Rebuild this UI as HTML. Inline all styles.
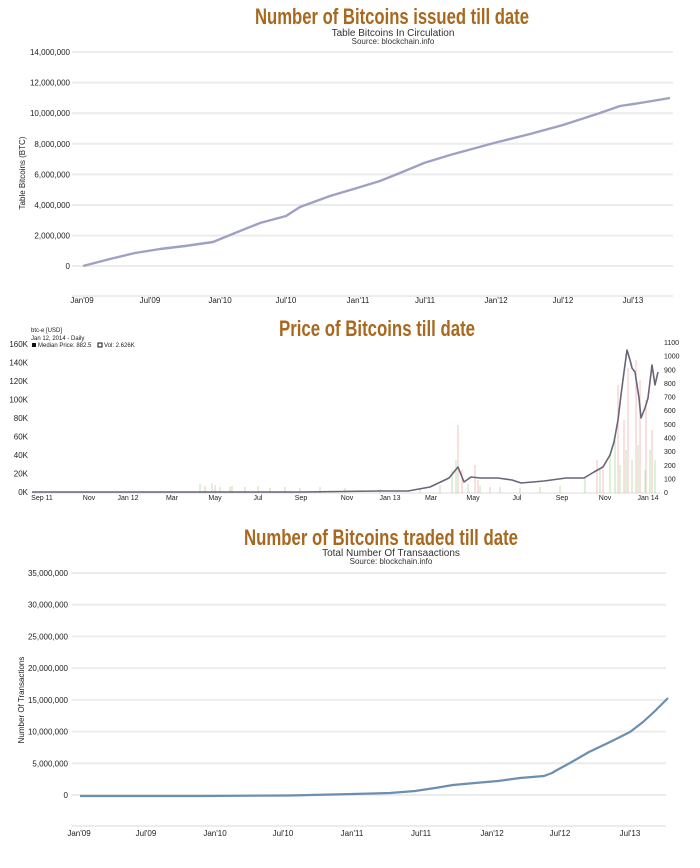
<!DOCTYPE html>
<html><head><meta charset="utf-8"><style>
html,body{margin:0;padding:0;background:#fff;}
svg{display:block;}
text{font-family:"Liberation Sans",sans-serif;}
.t{font-family:"Liberation Sans Narrow","Liberation Sans",sans-serif;font-weight:bold;fill:#a8681e;font-size:22px;}
.s{font-size:10px;fill:#333;}
.src{font-size:8px;fill:#333;}
.yl{font-size:8px;fill:#222;text-anchor:end;}
.yr{font-size:7px;fill:#222;text-anchor:start;}
.xl{font-size:8px;fill:#222;text-anchor:middle;}
.xs{font-size:7px;fill:#222;text-anchor:middle;}
.g{stroke:#ececec;stroke-width:2;}
</style></head><body>
<svg width="700" height="868" viewBox="0 0 700 868" xmlns="http://www.w3.org/2000/svg">
<!-- Chart 1 -->
<text class="t" x="392" y="24" text-anchor="middle" textLength="274" lengthAdjust="spacingAndGlyphs">Number of Bitcoins issued till date</text>
<text class="s" x="393" y="36" text-anchor="middle">Table Bitcoins In Circulation</text>
<text class="src" x="393" y="44" text-anchor="middle">Source: blockchain.info</text>
<g class="g">
<line x1="72" y1="52" x2="673" y2="52"/><line x1="72" y1="82.6" x2="673" y2="82.6"/><line x1="72" y1="113.2" x2="673" y2="113.2"/><line x1="72" y1="143.8" x2="673" y2="143.8"/><line x1="72" y1="174.4" x2="673" y2="174.4"/><line x1="72" y1="205" x2="673" y2="205"/><line x1="72" y1="235.6" x2="673" y2="235.6"/><line x1="72" y1="266" x2="673" y2="266"/><line x1="72" y1="296" x2="673" y2="296"/>
</g>
<g class="yl"><text x="70" y="55">14,000,000</text><text x="70" y="85.6">12,000,000</text><text x="70" y="116.2">10,000,000</text><text x="70" y="146.8">8,000,000</text><text x="70" y="177.4">6,000,000</text><text x="70" y="208">4,000,000</text><text x="70" y="238.6">2,000,000</text><text x="70" y="269">0</text></g>
<text x="25" y="173" font-size="8" fill="#222" text-anchor="middle" transform="rotate(-90 25 173)">Table Bitcoins (BTC)</text>
<g class="xl"><text x="82" y="303">Jan'09</text><text x="150" y="303">Jul'09</text><text x="220" y="303">Jan'10</text><text x="286" y="303">Jul'10</text><text x="358" y="303">Jan'11</text><text x="425" y="303">Jul'11</text><text x="496" y="303">Jan'12</text><text x="563" y="303">Jul'12</text><text x="633" y="303">Jul'13</text></g>
<polyline fill="none" stroke="#9fa1c4" stroke-width="2.4" stroke-linejoin="round" points="83,266 110,259 135,253 160,249 185,246 213,242 235,233 260,223 286,216 300,207 330,196 357,188 380,181 400,173 424,163 450,155 494,143 530,134 563,125 600,113 620,106 640,103 670,98"/>

<!-- Chart 2 -->
<text class="t" x="377" y="336" text-anchor="middle" textLength="196" lengthAdjust="spacingAndGlyphs">Price of Bitcoins till date</text>
<text x="31" y="332" font-size="6" fill="#222">btc-e [USD]</text>
<text x="31" y="340" font-size="6" fill="#222">Jan 12, 2014 - Daily</text>
<rect x="32" y="343" width="4" height="4" fill="#111"/>
<text x="38" y="347" font-size="6" fill="#222">Median Price: 882.5</text>
<rect x="98" y="343" width="4" height="4" fill="#fff" stroke="#111" stroke-width="1"/>
<text x="104" y="347" font-size="6" fill="#222">Vol: 2.626K</text>
<g class="yl" font-size="7"><text x="28" y="347">160K</text><text x="28" y="365.5">140K</text><text x="28" y="384">120K</text><text x="28" y="402.5">100K</text><text x="28" y="421">80K</text><text x="28" y="439.5">60K</text><text x="28" y="458">40K</text><text x="28" y="476.5">20K</text><text x="28" y="495">0K</text></g>
<g class="yr"><text x="664" y="345">1100</text><text x="664" y="358.6">1000</text><text x="664" y="372.3">900</text><text x="664" y="386">800</text><text x="664" y="399.6">700</text><text x="664" y="413.2">600</text><text x="664" y="427">500</text><text x="664" y="440.5">400</text><text x="664" y="454">300</text><text x="664" y="467.8">200</text><text x="664" y="481.5">100</text><text x="664" y="495">0</text></g>
<line x1="32" y1="493" x2="660" y2="493" stroke="#ddd" stroke-width="1"/>
<g stroke-width="1.2" opacity="0.55">
<path stroke="#9fcf8a" d="M200 493V484M205 493V486M212 493V483M220 493V487M232 493V486M245 493V487M258 493V486M270 493V488M285 493V487M300 493V488M320 493V487M345 493V488M380 493V489M420 493V488M440 493V485M452 493V470M456 493V460M468 493V484M480 493V486M500 493V487M520 493V488M540 493V487M560 493V486M585 493V478M600 493V470M610 493V455M615 493V440M620 493V465M626 493V450M632 493V460M638 493V445M645 493V470M650 493V450M655 493V460"/>
<path stroke="#f2a0a0" d="M205 493V487M215 493V485M230 493V487M458 493V425M462 493V470M475 493V465M478 493V480M490 493V487M597 493V460M603 493V470M618 493V385M624 493V420M628 493V368M636 493V360M640 493V380M646 493V400M652 493V430"/>
</g>
<polyline fill="none" stroke="#6a6478" stroke-width="1.6" stroke-linejoin="round" points="32,492 100,492 200,492 300,492 380,491 408,491 430,487 449,478 458,467 464,482 471,477 480,478 498,478 512,480 521,483 544,481 566,478 584,478 594,472 603,467 610,455 614,442 618,420 621,395 624,372 627,350 630,360 632,368 635,372 639,398 641,418 645,408 648,398 652,365 655,385 658,372"/>
<g class="xs"><text x="42" y="500">Sep 11</text><text x="89" y="500">Nov</text><text x="128" y="500">Jan 12</text><text x="172" y="500">Mar</text><text x="215" y="500">May</text><text x="258" y="500">Jul</text><text x="301" y="500">Sep</text><text x="347" y="500">Nov</text><text x="390" y="500">Jan 13</text><text x="431" y="500">Mar</text><text x="473" y="500">May</text><text x="517" y="500">Jul</text><text x="562" y="500">Sep</text><text x="605" y="500">Nov</text><text x="648" y="500">Jan 14</text></g>

<!-- Chart 3 -->
<text class="t" x="381" y="545" text-anchor="middle" textLength="274" lengthAdjust="spacingAndGlyphs">Number of Bitcoins traded till date</text>
<text class="s" x="391" y="556" text-anchor="middle">Total Number Of Transaactions</text>
<text class="src" x="391" y="564" text-anchor="middle">Source: blockchain.info</text>
<g class="g">
<line x1="72" y1="573" x2="666" y2="573"/><line x1="72" y1="604.7" x2="666" y2="604.7"/><line x1="72" y1="636.4" x2="666" y2="636.4"/><line x1="72" y1="668.1" x2="666" y2="668.1"/><line x1="72" y1="699.9" x2="666" y2="699.9"/><line x1="72" y1="731.6" x2="666" y2="731.6"/><line x1="72" y1="763.3" x2="666" y2="763.3"/><line x1="72" y1="795" x2="666" y2="795"/><line x1="72" y1="826" x2="666" y2="826"/>
</g>
<g class="yl"><text x="68" y="576">35,000,000</text><text x="68" y="607.7">30,000,000</text><text x="68" y="639.4">25,000,000</text><text x="68" y="671.1">20,000,000</text><text x="68" y="702.9">15,000,000</text><text x="68" y="734.6">10,000,000</text><text x="68" y="766.3">5,000,000</text><text x="68" y="798">0</text></g>
<text x="24" y="700" font-size="8" fill="#222" text-anchor="middle" transform="rotate(-90 24 700)">Number Of Transactions</text>
<g class="xl"><text x="79" y="836">Jan'09</text><text x="146" y="836">Jul'09</text><text x="215" y="836">Jan'10</text><text x="283" y="836">Jul'10</text><text x="352" y="836">Jan'11</text><text x="421" y="836">Jul'11</text><text x="492" y="836">Jan'12</text><text x="560" y="836">Jul'12</text><text x="630" y="836">Jul'13</text></g>
<polyline fill="none" stroke="#6b8fb0" stroke-width="2.2" stroke-linejoin="round" points="80,796 200,796 290,795.5 353,794 390,793 415,791 435,788 453,785 475,783 498,781 520,778 544,776 552,773 557,770 570,763 589,752 610,742 630,732 643,722 655,711 668,698"/>
</svg>
</body></html>
